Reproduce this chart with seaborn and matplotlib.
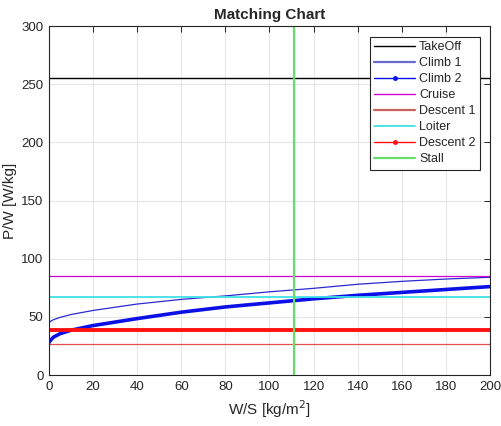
import matplotlib
matplotlib.use("Agg")
import matplotlib.pyplot as plt
import seaborn as sns
import pandas as pd
from matplotlib.lines import Line2D

# ---- data ----
ws_axis = [0, 200]
takeoff = [255, 255]
cruise = [85, 85]
descent1 = [26.5, 26.5]
loiter = [67, 67]
descent2 = [38.5, 38.5]
stall_ws = 111

climb_ws = [0, 1, 2, 5, 10, 20, 40, 60, 80, 100, 120, 140, 160, 180, 200]
climb1 = [45, 46.5, 47.5, 49.5, 52, 55.5, 61, 65, 68, 71.5, 74.5, 78, 80.5, 82.5, 84]
climb2 = [28, 30.5, 32.5, 35.5, 38.5, 42.5, 48.5, 54, 58.5, 62, 65.5, 68.5, 71, 73.5, 76]

xticks = list(range(0, 201, 20))
yticks = list(range(0, 301, 50))

sns.set_style("white")
plt.rcParams['font.family'] = ['Liberation Sans', 'DejaVu Sans']

fig = plt.figure(figsize=(5.02, 4.26), dpi=100)
ax = fig.add_axes([49/502, 1-375/426, (490-49)/502, (375-26)/426])

grid_c = '#e6e6e6'
ax.set_xticks(xticks)
ax.set_yticks(yticks)
ax.grid(True, color=grid_c, linewidth=0.8)
ax.set_axisbelow(True)

c_climb1 = '#2a2ad0'
specs = [
    ('TakeOff', ws_axis, takeoff, 'black', 1.0),
    ('Climb 1', climb_ws, climb1, c_climb1, 0.9),
    ('Climb 2', climb_ws, climb2, '#0a10e6', 2.6),
    ('Cruise', ws_axis, cruise, '#d000d0', 0.9),
    ('Descent 1', ws_axis, descent1, '#e05050', 0.9),
    ('Loiter', ws_axis, loiter, '#40e0e8', 1.3),
    ('Descent 2', ws_axis, descent2, '#ff1010', 2.8),
]
for name, xs, ys, col, lw in specs:
    df = pd.DataFrame({'x': xs, 'y': ys})
    sns.lineplot(data=df, x='x', y='y', ax=ax, color=col, linewidth=lw,
                 estimator=None, sort=False)
ax.axvline(stall_ws, color='#66dd66', linewidth=1.6)

ax.set_xlim(0, 200)
ax.set_ylim(0, 300)
ax.tick_params(direction='in', length=4, width=0.7, top=True, right=True,
               labelsize=9.5, colors='#262626', pad=4)
for s in ax.spines.values():
    s.set_color('#262626')
    s.set_linewidth(0.8)

ax.set_xlabel('W/S [kg/m$^2$]', fontsize=11, color='#262626', labelpad=4)
ax.set_ylabel('P/W [W/kg]', fontsize=11, color='#262626')
ax.yaxis.set_label_coords(-0.073, 0.5)
ax.set_title('Matching Chart', fontsize=11, fontweight='bold', pad=5)

handles = [
    Line2D([], [], color='black', lw=1.0),
    Line2D([], [], color='#6a6ad0', lw=1.6),
    Line2D([], [], color='#0a10e6', lw=1.0, marker='.', markersize=5),
    Line2D([], [], color='#d000d0', lw=1.0),
    Line2D([], [], color='#c86060', lw=1.6),
    Line2D([], [], color='#40e0e8', lw=1.3),
    Line2D([], [], color='#ff1010', lw=1.0, marker='.', markersize=5),
    Line2D([], [], color='#66dd66', lw=1.6),
]
labels = ['TakeOff', 'Climb 1', 'Climb 2', 'Cruise', 'Descent 1', 'Loiter', 'Descent 2', 'Stall']
leg = ax.legend(handles, labels, loc='upper right', bbox_to_anchor=(480/502, 1-37/426),
                bbox_transform=fig.transFigure, borderaxespad=0,
                fontsize=9, frameon=True, fancybox=False, framealpha=1,
                edgecolor='#262626', handlelength=3.3, handletextpad=0.3,
                labelspacing=0.32, borderpad=0.35, numpoints=1)
leg.get_frame().set_linewidth(0.8)

fig.savefig('out.png', dpi=100)
